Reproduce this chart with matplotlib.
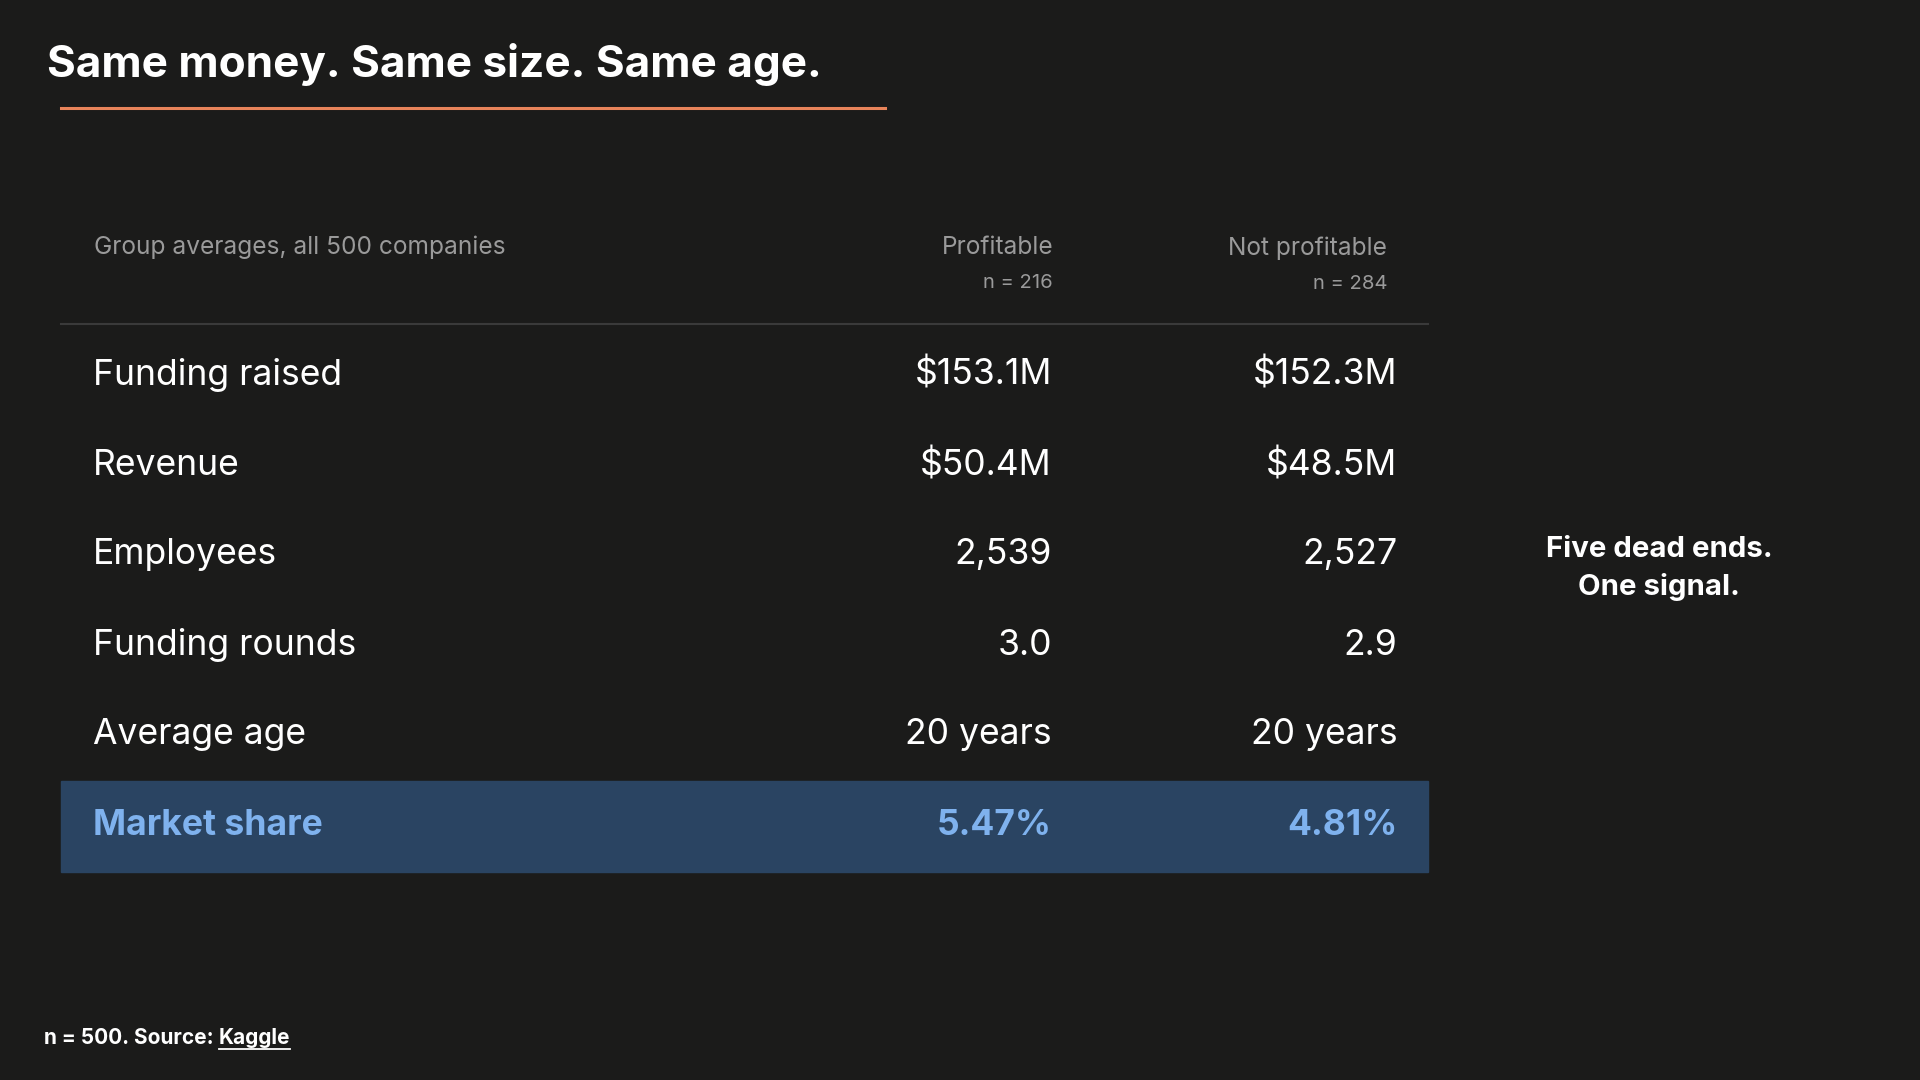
import matplotlib
matplotlib.use("Agg")
import matplotlib.pyplot as plt
from matplotlib.patches import Rectangle

plt.rcParams['font.family'] = ['Inter', 'DejaVu Sans']

metrics = ["Funding raised", "Revenue", "Employees", "Funding rounds", "Average age", "Market share"]
profitable = ["$153.1M", "$50.4M", "2,539", "3.0", "20 years", "5.47%"]
not_profitable = ["$152.3M", "$48.5M", "2,527", "2.9", "20 years", "4.81%"]
n_profitable = 216
n_not = 284

S = 1920 / 1568
def fs(px):
    return px * S * 0.72

BG = "#1b1b1a"
fig = plt.figure(figsize=(19.2, 10.8), dpi=100, facecolor=BG)
ax = fig.add_axes([0, 0, 1, 1])
ax.set_xlim(0, 1568)
ax.set_ylim(882, 0)
ax.axis("off")
ax.set_facecolor(BG)

ax.text(38, 53, "Same money. Same size. Same age.", color="white", fontsize=fs(36),
        fontweight="bold", va="center", ha="left")
ax.plot([50, 723], [88, 88], color="#e8845a", lw=2.2)

gray = "#9a9a9a"
ax.text(77, 202, "Group averages, all 500 companies", color=gray, fontsize=fs(20), va="center")
ax.text(860, 202, "Profitable", color=gray, fontsize=fs(20), va="center", ha="right")
ax.text(860, 231, f"n = {n_profitable}", color=gray, fontsize=fs(16.5), va="center", ha="right")
ax.text(1133, 203, "Not profitable", color=gray, fontsize=fs(20), va="center", ha="right")
ax.text(1133, 232, f"n = {n_not}", color=gray, fontsize=fs(16.5), va="center", ha="right")
ax.plot([50, 1166], [265, 265], color="#3a3a3a", lw=1.5)

row_y = [306, 380, 453, 527, 600, 674]
for i, (m, p, q) in enumerate(zip(metrics, profitable, not_profitable)):
    y = row_y[i]
    hl = i == len(metrics) - 1
    if hl:
        ax.add_patch(Rectangle((50, y - 36), 1116, 74, color="#2a4462", zorder=0))
    c = "#7fb2ee" if hl else "white"
    w = "bold" if hl else "normal"
    ax.text(76, y, m, color=c, fontsize=fs(29), fontweight=w, va="center")
    ax.text(859, y, p, color=c, fontsize=fs(29), fontweight=w, va="center", ha="right")
    ax.text(1141, y, q, color=c, fontsize=fs(29), fontweight=w, va="center", ha="right")

ax.text(1355, 464, "Five dead ends.\nOne signal.", color="white", fontsize=fs(24),
        fontweight="bold", va="center", ha="center", linespacing=1.45)

t1 = ax.text(36, 848, "n = 500. Source: ", color="white", fontsize=fs(17), fontweight="bold", va="center")
fig.canvas.draw()
bb = t1.get_window_extent()
x_end = ax.transData.inverted().transform((bb.x1, bb.y0))[0]
t2 = ax.text(x_end, 848, "Kaggle", color="white", fontsize=fs(17), fontweight="bold", va="center")
fig.canvas.draw()
bb2 = t2.get_window_extent()
x2 = ax.transData.inverted().transform((bb2.x1, bb2.y0))[0]
ax.plot([x_end, x2], [857, 857], color="white", lw=1.3)

fig.savefig("out.png", dpi=100, facecolor=BG)
